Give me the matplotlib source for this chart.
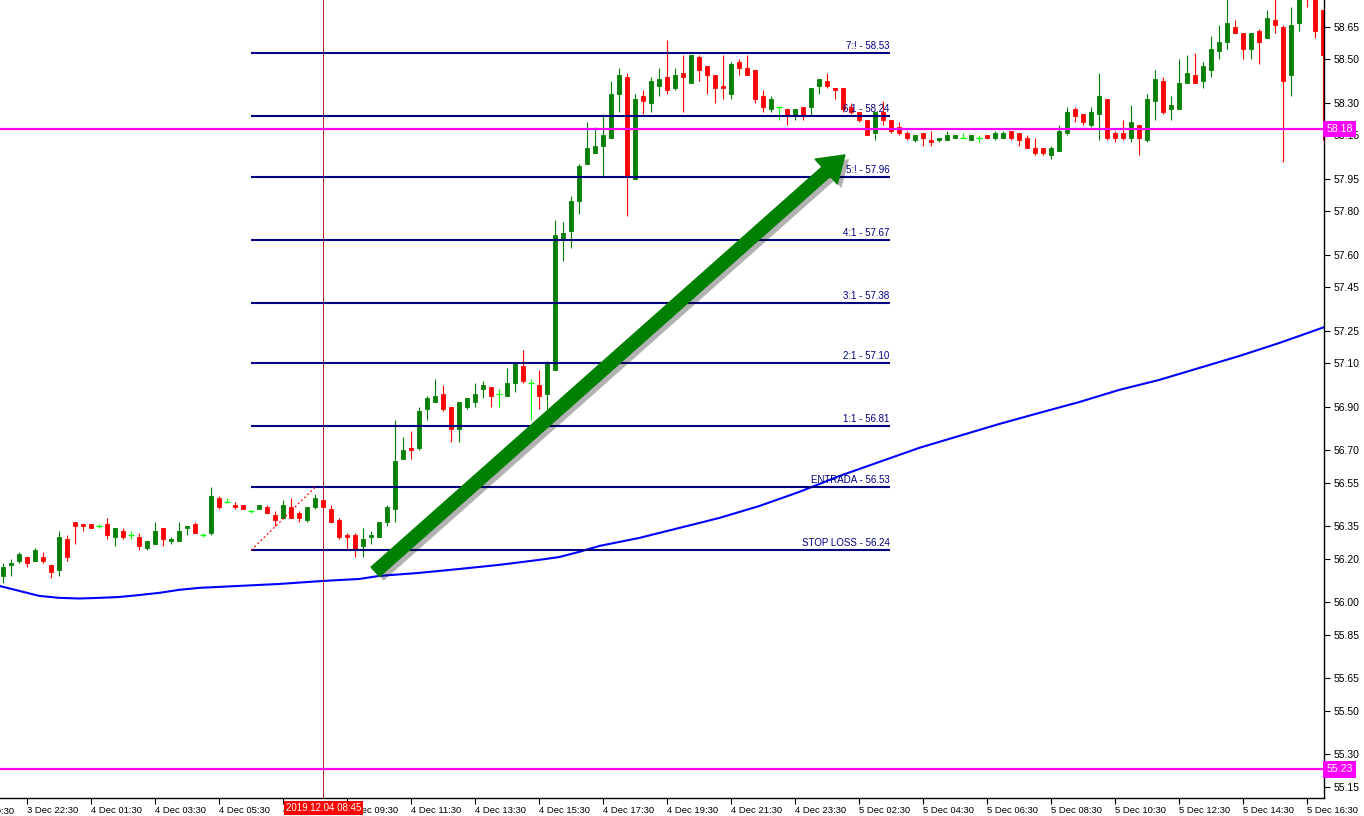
import matplotlib
matplotlib.use("Agg")
import matplotlib.pyplot as plt
import matplotlib.patheffects as pe
from matplotlib.patches import FancyArrowPatch
from matplotlib.transforms import blended_transform_factory
import numpy as np

plt.rcParams["font.family"] = ["Liberation Sans", "DejaVu Sans"]

# 15 min candles, 3 Dec 22:45 -> 5 Dec 17:00
opens = [56.12, 56.17, 56.19, 56.21, 56.19, 56.21, 56.17, 56.15, 56.29, 56.37,
         56.36, 56.36, 56.35, 56.36, 56.30, 56.33, 56.31, 56.30, 56.25, 56.27,
         56.34, 56.28, 56.28, 56.34, 56.36, 56.31, 56.32, 56.48, 56.46, 56.45,
         56.45, 56.42, 56.43, 56.44, 56.40, 56.39, 56.44, 56.41, 56.38, 56.44,
         56.47, 56.43, 56.38, 56.31, 56.31, 56.26, 56.30, 56.30, 56.37, 56.43,
         56.66, 56.71, 56.71, 56.89, 56.92, 56.96, 56.90, 56.80, 56.90, 56.92,
         56.98, 56.99, 56.96, 56.95, 57.01, 57.09, 57.01, 57.00, 56.96, 57.07,
         57.67, 57.71, 57.85, 58.02, 58.07, 58.10, 58.14, 58.34, 58.42, 57.95,
         58.33, 58.30, 58.38, 58.42, 58.37, 58.44, 58.39, 58.51, 58.47, 58.43,
         58.38, 58.34, 58.49, 58.46, 58.45, 58.33, 58.27, 58.28, 58.27, 58.24,
         58.28, 58.28, 58.38, 58.40, 58.37, 58.37, 58.28, 58.26, 58.22, 58.16,
         58.26, 58.22, 58.19, 58.16, 58.13, 58.16, 58.13, 58.13, 58.13, 58.14,
         58.14, 58.13, 58.14, 58.15, 58.14, 58.14, 58.17, 58.16, 58.14, 58.09,
         58.09, 58.06, 58.08, 58.16, 58.27, 58.25, 58.20, 58.25, 58.32, 58.16,
         58.16, 58.14, 58.20, 58.13, 58.31, 58.40, 58.27, 58.27, 58.39, 58.43,
         58.40, 58.45, 58.54, 58.58, 58.65, 58.62, 58.55, 58.63, 58.60, 58.68,
         58.65, 58.43, 58.67, 58.90, 58.82, 58.73]
highs = [56.18, 56.20, 56.23, 56.21, 56.25, 56.23, 56.17, 56.33, 56.31, 56.37,
         56.36, 56.36, 56.36, 56.39, 56.34, 56.34, 56.33, 56.32, 56.28, 56.37,
         56.34, 56.30, 56.37, 56.35, 56.37, 56.32, 56.53, 56.49, 56.48, 56.46,
         56.45, 56.42, 56.45, 56.45, 56.42, 56.47, 56.48, 56.42, 56.44, 56.50,
         56.47, 56.45, 56.39, 56.32, 56.32, 56.34, 56.33, 56.37, 56.45, 56.84,
         56.76, 56.79, 56.90, 56.95, 57.03, 57.00, 56.90, 56.92, 56.94, 57.01,
         57.02, 56.99, 56.98, 57.08, 57.10, 57.16, 57.03, 57.07, 57.11, 57.76,
         57.75, 57.87, 58.02, 58.21, 58.19, 58.25, 58.40, 58.46, 58.44, 58.34,
         58.36, 58.42, 58.46, 58.59, 58.46, 58.52, 58.52, 58.52, 58.47, 58.43,
         58.52, 58.49, 58.50, 58.52, 58.45, 58.36, 58.33, 58.28, 58.27, 58.27,
         58.28, 58.37, 58.41, 58.44, 58.37, 58.37, 58.30, 58.26, 58.22, 58.26,
         58.31, 58.22, 58.21, 58.17, 58.15, 58.16, 58.17, 58.14, 58.17, 58.15,
         58.16, 58.15, 58.15, 58.15, 58.17, 58.17, 58.17, 58.16, 58.15, 58.14,
         58.09, 58.10, 58.20, 58.28, 58.28, 58.25, 58.28, 58.44, 58.32, 58.17,
         58.22, 58.29, 58.20, 58.34, 58.45, 58.42, 58.33, 58.50, 58.52, 58.53,
         58.49, 58.61, 58.66, 58.80, 58.68, 58.62, 58.62, 58.64, 58.73, 58.80,
         58.66, 58.74, 58.89, 58.93, 58.84, 58.73]
lows = [56.09, 56.12, 56.18, 56.16, 56.19, 56.18, 56.11, 56.12, 56.19, 56.27,
        56.33, 56.34, 56.34, 56.29, 56.26, 56.29, 56.29, 56.24, 56.24, 56.27,
        56.26, 56.27, 56.28, 56.31, 56.32, 56.30, 56.31, 56.43, 56.46, 56.43,
        56.43, 56.41, 56.43, 56.41, 56.35, 56.39, 56.39, 56.37, 56.37, 56.43,
        56.44, 56.37, 56.29, 56.24, 56.21, 56.21, 56.27, 56.30, 56.35, 56.37,
        56.66, 56.66, 56.70, 56.84, 56.92, 56.88, 56.74, 56.74, 56.89, 56.90,
        56.94, 56.90, 56.90, 56.95, 56.97, 57.01, 56.84, 56.89, 56.89, 57.07,
        57.57, 57.63, 57.79, 58.02, 58.07, 57.96, 58.14, 58.26, 57.78, 57.95,
        58.25, 58.26, 58.33, 58.34, 58.36, 58.26, 58.39, 58.40, 58.34, 58.30,
        58.32, 58.32, 58.43, 58.43, 58.30, 58.26, 58.26, 58.22, 58.20, 58.22,
        58.22, 58.24, 58.34, 58.37, 58.32, 58.26, 58.25, 58.21, 58.15, 58.13,
        58.20, 58.16, 58.15, 58.13, 58.12, 58.10, 58.10, 58.12, 58.13, 58.14,
        58.14, 58.13, 58.12, 58.14, 58.13, 58.14, 58.13, 58.10, 58.09, 58.06,
        58.06, 58.04, 58.08, 58.15, 58.21, 58.20, 58.19, 58.13, 58.13, 58.12,
        58.13, 58.12, 58.06, 58.12, 58.22, 58.25, 58.22, 58.27, 58.39, 58.39,
        58.37, 58.42, 58.50, 58.55, 58.62, 58.50, 58.50, 58.48, 58.60, 58.62,
        58.03, 58.33, 58.63, 58.74, 58.60, 58.13]
closes = [56.16, 56.18, 56.22, 56.18, 56.24, 56.19, 56.14, 56.30, 56.21, 56.35,
          56.35, 56.34, 56.35, 56.31, 56.34, 56.30, 56.31, 56.26, 56.28, 56.33,
          56.29, 56.29, 56.33, 56.35, 56.32, 56.31, 56.49, 56.44, 56.46, 56.44,
          56.43, 56.42, 56.45, 56.41, 56.38, 56.45, 56.39, 56.39, 56.44, 56.48,
          56.44, 56.37, 56.30, 56.30, 56.24, 56.29, 56.31, 56.37, 56.44, 56.65,
          56.70, 56.70, 56.88, 56.94, 56.95, 56.89, 56.80, 56.92, 56.94, 56.96,
          57.00, 56.95, 56.96, 57.01, 57.10, 57.02, 57.01, 56.95, 57.10, 57.69,
          57.70, 57.85, 58.01, 58.09, 58.10, 58.15, 58.34, 58.43, 57.96, 58.32,
          58.31, 58.40, 58.41, 58.36, 58.43, 58.42, 58.52, 58.45, 58.43, 58.37,
          58.37, 58.48, 58.46, 58.43, 58.32, 58.28, 58.32, 58.28, 58.24, 58.27,
          58.24, 58.37, 58.41, 58.38, 58.36, 58.27, 58.26, 58.22, 58.15, 58.26,
          58.22, 58.17, 58.16, 58.14, 58.15, 58.14, 58.12, 58.14, 58.15, 58.15,
          58.14, 58.15, 58.14, 58.14, 58.16, 58.16, 58.14, 58.13, 58.09, 58.07,
          58.07, 58.09, 58.17, 58.26, 58.24, 58.21, 58.26, 58.33, 58.14, 58.14,
          58.14, 58.21, 58.14, 58.32, 58.41, 58.26, 58.29, 58.39, 58.44, 58.39,
          58.47, 58.55, 58.58, 58.67, 58.62, 58.55, 58.62, 58.58, 58.69, 58.66,
          58.40, 58.66, 58.84, 58.80, 58.63, 58.52]

# moving average
ma_idx = [-0.5, 2, 4.5, 7, 9.5, 12, 14.5, 17, 19.5, 22, 24.5, 29.5, 34.5, 40,
          44.5, 47, 52, 57, 62, 67, 69.5, 72, 74.5, 79.5, 84.5, 89.5, 94.5,
          99.5, 104.5, 109.5, 114.5, 119.5, 124.5, 129.5, 134.5, 139.5, 144.5,
          149.5, 154.5, 159.5, 165.5]
ma_val = [56.075, 56.052, 56.029, 56.020, 56.017, 56.020, 56.024, 56.033,
          56.043, 56.057, 56.066, 56.075, 56.084, 56.098, 56.107, 56.121,
          56.135, 56.153, 56.172, 56.195, 56.208, 56.232, 56.259, 56.296,
          56.342, 56.388, 56.443, 56.508, 56.581, 56.646, 56.711, 56.766,
          56.821, 56.872, 56.922, 56.978, 57.024, 57.079, 57.134, 57.194,
          57.272]

fib_prices = [58.53, 58.24, 57.96, 57.67, 57.38, 57.10, 56.81, 56.53, 56.24]
fib_labels = ["7:! - 58.53", "6:1 - 58.24", "5:! - 57.96", "4:1 - 57.67",
              "3:1 - 57.38", "2:1 - 57.10", "1:1 - 56.81", "ENTRADA - 56.53",
              "STOP LOSS - 56.24"]
fib_x0, fib_x1 = 31, 110.8
trend_x = [31, 39]
trend_y = [56.24, 56.53]

level_prices = [58.18, 55.23]

ytick_vals = [58.65, 58.50, 58.30, 58.15, 57.95, 57.80, 57.60, 57.45, 57.25,
              57.10, 56.90, 56.70, 56.55, 56.35, 56.20, 56.00, 55.85, 55.65,
              55.50, 55.30, 55.15]
xtick_idx = [3, 11, 19, 27, 35, 43, 51, 59, 67, 75, 83, 91, 99, 107, 115, 123,
             131, 139, 147, 155, 163]
xtick_lbl = ["3 Dec 22:30", "4 Dec 01:30", "4 Dec 03:30", "4 Dec 05:30",
             "4 Dec 07:30", "4 Dec 09:30", "4 Dec 11:30", "4 Dec 13:30",
             "4 Dec 15:30", "4 Dec 17:30", "4 Dec 19:30", "4 Dec 21:30",
             "4 Dec 23:30", "5 Dec 02:30", "5 Dec 04:30", "5 Dec 06:30",
             "5 Dec 08:30", "5 Dec 10:30", "5 Dec 12:30", "5 Dec 14:30",
             "5 Dec 16:30"]

cross_idx = 40
cross_lbl = "2019.12.04 08:45"
arrow_from = (46.5, 56.14)
arrow_to = (105.2, 58.06)

fig = plt.figure(figsize=(13.64, 8.16), dpi=100)
ax = fig.add_axes([0, 18 / 816, 1324 / 1364, 798 / 816])

x = np.arange(len(opens))
o, h, l, c = (np.array(v) for v in (opens, highs, lows, closes))
col = np.where(c > o, "#008000", np.where(c < o, "#ff0000", "#00ff00"))
ax.plot(ma_idx, ma_val, color="#0000ff", lw=1.5, zorder=1)
ax.vlines(x, l, h, colors=col, lw=0.8, zorder=2)
b = c != o
ax.bar(x[b], np.abs(c - o)[b], bottom=np.minimum(o, c)[b], width=0.55,
       color=col[b], edgecolor=col[b], lw=0.6, zorder=2)
ax.hlines(o[~b], x[~b] - 0.35, x[~b] + 0.35, colors=col[~b], lw=1.0, zorder=2)

ax.hlines(fib_prices, fib_x0, fib_x1, colors="#000080", lw=1.5, zorder=3)
for p, t in zip(fib_prices, fib_labels):
    ax.annotate(t, (fib_x1, p), xytext=(0, 1.5), textcoords="offset points",
                ha="right", va="bottom", fontsize=7, color="#000080", zorder=3)
ax.plot(trend_x, trend_y, color="red", lw=0.9, ls=(0, (1.5, 2)), zorder=3)

ax.axvline(cross_idx, color="#a00000", lw=0.6, zorder=1)

tr = blended_transform_factory(ax.transAxes, ax.transData)
for p in level_prices:
    ax.axhline(p, color="#ff00ff", lw=1.6, zorder=4)
    ax.text(1.002, p, f"{p:.2f}", transform=tr, ha="left", va="center",
            color="white", fontsize=7.6, zorder=6, clip_on=False,
            bbox=dict(boxstyle="square,pad=0.3", fc="#ff00ff", ec="none"))

arr = FancyArrowPatch(arrow_from, arrow_to, shrinkA=0, shrinkB=0,
                      arrowstyle="simple,head_length=1.8,head_width=2.4,tail_width=0.9",
                      mutation_scale=10, color="#008000", zorder=5,
                      path_effects=[pe.SimplePatchShadow(offset=(3, -3), shadow_rgbFace="black", alpha=0.3),
                                    pe.Normal()])
ax.add_patch(arr)

ax.set_xlim(-0.41, 165.09)
ax.set_ylim(55.098, 58.774)
for s in ("left", "top"):
    ax.spines[s].set_visible(False)
for s in ("right", "bottom"):
    ax.spines[s].set_linewidth(1.0)
ax.yaxis.tick_right()
ax.set_yticks(ytick_vals)
ax.set_yticklabels([f"{v:.2f}" for v in ytick_vals])
ax.set_xticks(xtick_idx)
ax.set_xticklabels(xtick_lbl, ha="left")
ax.tick_params(axis="y", direction="out", length=4, pad=3, labelsize=7.5)
ax.tick_params(axis="x", direction="out", length=4, pad=1.5, labelsize=6.8)
ax.annotate("3 Dec 20:30", (-5, 0), xycoords=("data", "axes fraction"),
            xytext=(0, -6.7), textcoords="offset points", ha="left", va="top",
            fontsize=6.8, annotation_clip=False)

ax.annotate(cross_lbl, (cross_idx, 0), xycoords=("data", "axes fraction"),
            xytext=(0, -3.5), textcoords="offset points", ha="center", va="top",
            fontsize=7, color="white", zorder=7, annotation_clip=False,
            bbox=dict(boxstyle="square,pad=0.2", fc="#ff0000", ec="none"))

fig.savefig("out.png", dpi=100, facecolor="white")
